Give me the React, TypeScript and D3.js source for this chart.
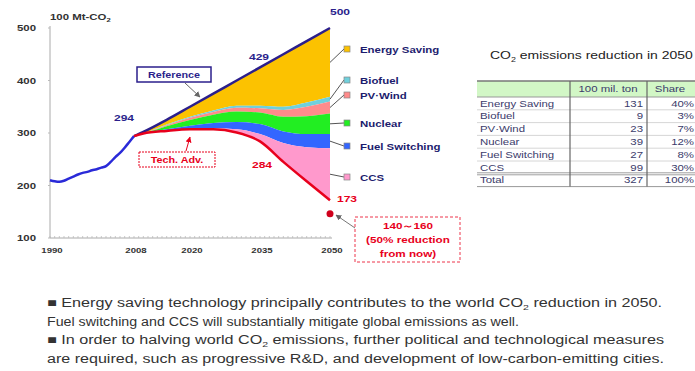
import React, { useEffect, useRef } from 'react';
import * as d3 from 'd3';

// history 1990-2008 (100 Mt-CO2)
const histYears = [1990, 1991, 1992, 1993, 1994, 1995, 1996, 1997, 1998, 1999, 2000, 2001, 2002, 2003, 2004, 2005, 2006, 2007, 2008];
const histValues = [210, 208, 207, 209, 213, 217, 221, 224, 226, 229, 231, 234, 237, 245, 254, 262, 272, 283, 294];

// projection years
const years = [2008, 2010, 2015, 2020, 2025, 2030, 2035, 2040, 2045, 2050];
const reference = [294, 302, 325, 350, 375, 400, 425, 450, 475, 500];
const energySaving = [0, 3, 9, 19, 32, 48, 73, 100, 117, 131];
const biofuel = [0, 0, 1, 2, 3, 4, 5, 6, 8, 9];
const pvWind = [0, 0, 2, 4, 5, 7, 8, 13, 18, 23];
const nuclear = [0, 0, 6, 11, 16, 20, 22, 28, 34, 39];
const fuelSwitching = [0, 0, 3, 7, 10, 14, 19, 22, 25, 27];
const ccs = [0, 0, 0, 0, 2, 6, 14, 36, 65, 99];

const measureNames = ['Energy Saving', 'Biofuel', 'PV·Wind', 'Nuclear', 'Fuel Switching', 'CCS'];
const measureColors = ['#fcc200', '#6fd0dc', '#ff8b8b', '#22ee22', '#3366ff', '#ff99cc'];
const legendY = [49, 80, 95, 123, 146, 177];

const xTicks = [1990, 2008, 2020, 2035, 2050];
const yTicks = [100, 200, 300, 400, 500];

// table
const tableRows = ['Energy Saving', 'Biofuel', 'PV·Wind', 'Nuclear', 'Fuel Switching', 'CCS'];
const tableAmounts = [131, 9, 23, 39, 27, 99];
const tableShares = ['40%', '3%', '7%', '12%', '8%', '30%'];
const tableTotal = [327, '100%'];

const FONT = '"Liberation Sans", Arial, sans-serif';
const SX = 1.27; // text in the source is stretched horizontally

export default function App() {
  const svgRef = useRef<SVGSVGElement>(null);

  useEffect(() => {
    if (!svgRef.current) return;
    const root = d3.select(svgRef.current);
    root.selectAll('*').remove();

    const x = d3.scaleLinear().domain([1990, 2050]).range([50, 330]);
    const y = d3.scaleLinear().domain([100, 500]).range([238, 28]);

    // stretched text helper
    const txt = (tx: number, ty: number, s: string | number, size: number, color: string,
      opts: { anchor?: string; bold?: boolean; sx?: number } = {}) =>
      root.append('text')
        .attr('transform', `translate(${tx},${ty}) scale(${opts.sx ?? SX},1)`)
        .attr('text-anchor', opts.anchor ?? 'start')
        .attr('font-family', FONT).attr('font-size', size)
        .attr('font-weight', opts.bold ? 'bold' : 'normal')
        .attr('fill', color).text(s);

    const defs = root.append('defs');
    const mk = (id: string, color: string) => defs.append('marker')
      .attr('id', id).attr('viewBox', '0 0 10 10').attr('refX', 9).attr('refY', 5)
      .attr('markerWidth', 6).attr('markerHeight', 6).attr('orient', 'auto')
      .append('path').attr('d', 'M0,0 L10,5 L0,10 Z').attr('fill', color);
    mk('arrGray', '#666');
    mk('arrRed', '#e8001c');

    // stacked wedges
    const measures = [energySaving, biofuel, pvWind, nuclear, fuelSwitching, ccs];
    const bounds: number[][] = [reference.slice()];
    measures.forEach((m, i) => {
      bounds.push(bounds[i].map((v, j) => v - m[j]));
    });
    const techAdv = bounds[bounds.length - 1];

    const area = d3.area<number>()
      .x(j => x(years[j]))
      .curve(d3.curveMonotoneX);

    measures.forEach((_, i) => {
      root.append('path')
        .attr('d', area.y0(j => y(bounds[i + 1][j])).y1(j => y(bounds[i][j]))(years.map((_, j) => j)))
        .attr('fill', measureColors[i]);
    });

    // axes
    const g = root.append('g');
    g.append('line').attr('x1', 50).attr('x2', 50).attr('y1', 26).attr('y2', 238).attr('stroke', '#aaa').attr('stroke-width', 1);
    g.append('line').attr('x1', 50).attr('x2', 332).attr('y1', 238).attr('y2', 238).attr('stroke', '#aaa').attr('stroke-width', 1);
    g.selectAll('.mt').data(d3.range(1990, 2051)).enter().append('line')
      .attr('x1', d => x(d)).attr('x2', d => x(d)).attr('y1', 236).attr('y2', 238)
      .attr('stroke', '#bbb').attr('stroke-width', 0.8);
    g.selectAll('.yt').data(yTicks).enter().append('line')
      .attr('x1', 48).attr('x2', 50).attr('y1', d => y(d)).attr('y2', d => y(d)).attr('stroke', '#bbb');
    yTicks.forEach(d => txt(36, y(d) + 3, d, 9, '#333', { anchor: 'end', bold: true }));
    xTicks.forEach(d => txt(x(d) + 2, 253, d, 8, '#333', { anchor: 'middle', bold: true, sx: 1.2 }));

    const unit = txt(50, 20, '', 9, '#333', { bold: true });
    unit.append('tspan').text('100 Mt-CO');
    unit.append('tspan').attr('font-size', 6).attr('dy', 2).text('2');

    // lines
    const line = d3.line<[number, number]>().x(d => x(d[0])).y(d => y(d[1])).curve(d3.curveMonotoneX);
    root.append('path').attr('d', line(histYears.map((yr, i) => [yr, histValues[i]])))
      .attr('fill', 'none').attr('stroke', '#2a2ad8').attr('stroke-width', 2.5);
    root.append('path').attr('d', line(years.map((yr, i) => [yr, reference[i]])))
      .attr('fill', 'none').attr('stroke', '#2b1f8c').attr('stroke-width', 2.5);
    root.append('path').attr('d', line(years.map((yr, i) => [yr, techAdv[i]])))
      .attr('fill', 'none').attr('stroke', '#e8001c').attr('stroke-width', 2.5);

    // value labels
    const navy = '#2b1f8c';
    const red = '#e8001c';
    txt(x(2008) - 10, y(294) - 15, '294', 9.5, navy, { anchor: 'middle', bold: true });
    txt(x(2035) - 1, y(429) - 5, '429', 9.5, navy, { anchor: 'middle', bold: true });
    txt(x(2050) + 10, y(500) - 13, '500', 9.5, navy, { anchor: 'middle', bold: true });
    txt(x(2035) + 2, y(284) + 27, '284', 9.5, red, { anchor: 'middle', bold: true });
    txt(x(2050) + 17, y(techAdv[techAdv.length - 1]) + 2, '173', 9.5, red, { anchor: 'middle', bold: true });

    // 2050 target dot
    root.append('circle').attr('cx', x(2050)).attr('cy', y(146)).attr('r', 3.5).attr('fill', '#d0001c');

    // Reference callout
    root.append('rect').attr('x', 137).attr('y', 67).attr('width', 74).attr('height', 15)
      .attr('fill', '#fff').attr('stroke', navy).attr('stroke-width', 1.5);
    txt(174, 78, 'Reference', 8.5, navy, { anchor: 'middle', bold: true });
    root.append('line').attr('x1', 185).attr('y1', 83).attr('x2', 200).attr('y2', 97)
      .attr('stroke', '#666').attr('stroke-width', 1).attr('marker-end', 'url(#arrGray)');

    // Tech. Adv. callout
    root.append('rect').attr('x', 139).attr('y', 152).attr('width', 76).attr('height', 15)
      .attr('fill', '#fff').attr('stroke', red).attr('stroke-width', 1).attr('stroke-dasharray', '2,1');
    txt(177, 163, 'Tech. Adv.', 8.5, red, { anchor: 'middle', bold: true });
    root.append('line').attr('x1', 186).attr('y1', 151).attr('x2', 190).attr('y2', 137)
      .attr('stroke', red).attr('stroke-width', 1).attr('marker-end', 'url(#arrRed)');

    // target box
    root.append('rect').attr('x', 355).attr('y', 217).attr('width', 105).attr('height', 45)
      .attr('fill', '#fff').attr('stroke', red).attr('stroke-width', 0.8).attr('stroke-dasharray', '3,2');
    ['140～160', '(50% reduction', 'from now)'].forEach((s, i) => {
      txt(408, 229 + i * 14, s, 9, red, { anchor: 'middle', bold: true, sx: 1.3 });
    });
    root.append('line').attr('x1', 355).attr('y1', 228).attr('x2', 336).attr('y2', 215)
      .attr('stroke', '#777').attr('stroke-width', 1).attr('marker-end', 'url(#arrGray)');

    // legend with leader lines
    measureNames.forEach((name, i) => {
      const last = years.length - 1;
      const mid = (y(bounds[i][last]) + y(bounds[i + 1][last])) / 2;
      root.append('line').attr('x1', x(2050)).attr('y1', mid).attr('x2', 344).attr('y2', legendY[i])
        .attr('stroke', '#555').attr('stroke-width', 1);
      root.append('rect').attr('x', 344).attr('y', legendY[i] - 3).attr('width', 6).attr('height', 6)
        .attr('fill', measureColors[i]).attr('stroke', '#888').attr('stroke-width', 0.7);
      txt(360, legendY[i] + 3.5, name, 9, '#1c1c6e', { bold: true });
    });

    // table
    const title = txt(490, 59, '', 11, '#222');
    title.append('tspan').text('CO');
    title.append('tspan').attr('font-size', 7).attr('dy', 3).text('2');
    title.append('tspan').attr('dy', -3).text(' emissions reduction in 2050');

    const tL = 477, tR = 699, c1 = 570, c2 = 647;
    const top = 81, headH = 16, rowH = 12.8;
    root.append('rect').attr('x', tL).attr('y', top).attr('width', tR - tL).attr('height', headH).attr('fill', '#d2f7c6');
    const tc = '#3b3b6b';
    txt(608, top + 11, '100 mil. ton', 9, tc, { anchor: 'middle' });
    txt(670, top + 11, 'Share', 9, tc, { anchor: 'middle' });
    const rowTop = (i: number) => top + headH + i * rowH;
    tableRows.forEach((r, i) => {
      const ty = rowTop(i) + 9.5;
      txt(480, ty, r, 9, tc);
      txt(643, ty, tableAmounts[i], 9, tc, { anchor: 'end' });
      txt(694, ty, tableShares[i], 9, tc, { anchor: 'end' });
      if (i > 0) {
        root.append('line').attr('x1', tL).attr('x2', tR).attr('y1', rowTop(i)).attr('y2', rowTop(i))
          .attr('stroke', '#ccc').attr('stroke-width', 0.8);
      }
    });
    const totTop = rowTop(tableRows.length);
    txt(480, totTop + 9.5, 'Total', 9, tc);
    txt(643, totTop + 9.5, tableTotal[0], 9, tc, { anchor: 'end' });
    txt(694, totTop + 9.5, tableTotal[1], 9, tc, { anchor: 'end' });
    const bottom = totTop + rowH;
    [[top, '#777', 1.5], [top + headH, '#999', 1], [totTop - 1, '#888', 0.8], [totTop + 1, '#888', 0.8], [bottom, '#999', 1]]
      .forEach(([yy, c, w]) => {
        root.append('line').attr('x1', tL).attr('x2', tR).attr('y1', yy as number).attr('y2', yy as number)
          .attr('stroke', c as string).attr('stroke-width', w as number);
      });
    [c1, c2].forEach(cx => {
      root.append('line').attr('x1', cx).attr('x2', cx).attr('y1', top).attr('y2', bottom)
        .attr('stroke', '#666').attr('stroke-width', 1.2);
    });

    // notes
    const notes = [
      ['■ Energy saving technology principally contributes to the world CO', '2', ' reduction in 2050.'],
      ['Fuel switching and CCS will substantially mitigate global emissions as well.'],
      ['■ In order to halving world CO', '2', ' emissions, further political and technological measures'],
      ['are required, such as progressive R&D, and development of low-carbon-emitting cities.'],
    ];
    const noteLen = [615, 472, 617, 617];
    notes.forEach((parts, i) => {
      const t = root.append('text').attr('x', 47).attr('y', 307 + i * 18.7)
        .attr('font-family', FONT).attr('font-size', 12.3).attr('fill', '#333')
        .attr('textLength', noteLen[i]).attr('lengthAdjust', 'spacingAndGlyphs');
      t.append('tspan').text(parts[0]);
      if (parts.length > 1) {
        t.append('tspan').attr('font-size', 8).attr('dy', 3).text(parts[1]);
        t.append('tspan').attr('dy', -3).text(parts[2]);
      }
    });
  }, []);

  return (
    <svg ref={svgRef} width={695} height={371}
      style={{ position: 'absolute', left: 0, top: 0, background: '#fff' }} />
  );
}
